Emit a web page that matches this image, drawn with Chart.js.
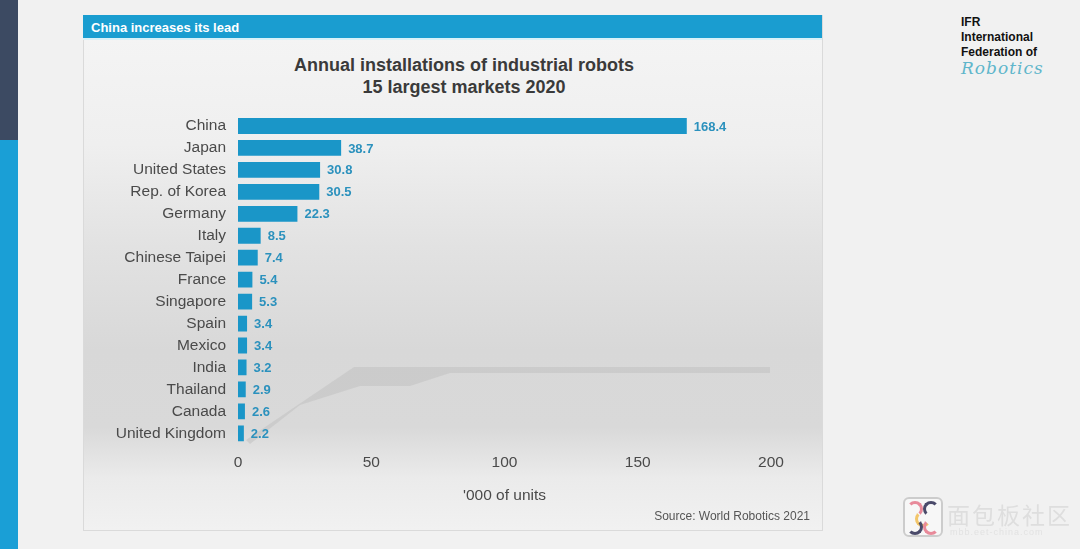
<!DOCTYPE html>
<html>
<head>
<meta charset="utf-8">
<script src="https://cdn.jsdelivr.net/npm/chart.js@4.4.1/dist/chart.umd.min.js"></script>
<style>
  html, body { margin: 0; padding: 0; }
  body { width: 1080px; height: 549px; background: #f1f1f1; position: relative; overflow: hidden;
         font-family: "Liberation Sans", Arial, sans-serif; }
  .strip-top { position: absolute; left: 0; top: 0; width: 18px; height: 140px; background: #3c4a62; }
  .strip-bot { position: absolute; left: 0; top: 140px; width: 18px; height: 409px; background: #1a9fd6; }
  .panel { position: absolute; left: 83px; top: 15px; width: 738px; height: 514px;
           border: 1px solid #dadada;
           background: linear-gradient(to bottom, #f5f5f5 0%, #efefef 25%, #e2e2e2 45%, #d8d8d8 65%, #d9d9d9 80%, #ebebeb 90%, #f1f1f1 100%); }
  .header { position: absolute; left: 83px; top: 15px; width: 739px; height: 25px; background: #1a9dd0;
            border-bottom: 2px solid #d9f1f8; box-sizing: border-box; }
  .header span { position: absolute; left: 8px; top: 5px; color: #fff; font-weight: bold; font-size: 13px; }
  .title { position: absolute; left: 214px; top: 55px; width: 500px; text-align: center;
           font-weight: bold; font-size: 18px; line-height: 21.5px; color: #3a3a3a; }
  .chart-box { position: absolute; left: 83px; top: 40px; width: 739px; height: 490px; }
  .source { position: absolute; right: 270px; top: 509px; font-size: 12px; color: #555; }
  .logo { position: absolute; left: 961px; top: 15px; font-weight: bold; font-size: 12px; line-height: 15px; color: #111; }
  .logo .script { font-family: "DejaVu Serif", serif; font-style: italic; font-weight: normal; font-size: 17px;
                  color: #5fb6cb; letter-spacing: 1px; margin-top: 1px; }
  .wm { position: absolute; left: 903px; top: 497px; width: 36px; height: 36px; border: 2px solid #ccc;
        border-radius: 6px; background: #f7f7f7; overflow: hidden; }
  .wm i { position: absolute; width: 10px; height: 10px; border-radius: 50%; border: 3px solid; border-color: transparent; }
  .wm-text { position: absolute; left: 947px; top: 497px; font-family: "Noto Sans CJK SC", sans-serif;
             font-size: 23px; color: #dedede; letter-spacing: 2px; }
  .wm-sub { position: absolute; left: 950px; top: 527px; font-size: 9px; color: #e2e2e2; letter-spacing: 1px; }
  svg.shadow { position: absolute; left: 0; top: 0; }
</style>
</head>
<body>
<div class="strip-top"></div>
<div class="strip-bot"></div>
<div class="panel"></div>
<svg class="shadow" width="1080" height="549">
  <polygon points="246,440 354,367 770,367 770,373 450,373 410,386 360,386 300,405 250,444" fill="#c4c4c4" opacity="0.65"/>
</svg>
<div class="header"><span>China increases its lead</span></div>
<div class="title">Annual installations of industrial robots<br>15 largest markets 2020</div>
<div class="chart-box"><canvas id="robotChart"></canvas></div>
<div class="source">Source: World Robotics 2021</div>
<div class="logo">IFR<br>International<br>Federation of<div class="script">Robotics</div></div>
<div class="wm">
  <i style="left:2px;top:2px;border-top-color:#e88a9a;border-right-color:#e88a9a"></i>
  <i style="left:18px;top:2px;border-top-color:#4a4a6a;border-left-color:#4a4a6a"></i>
  <i style="left:10px;top:12px;border-bottom-color:#f3c66a;border-left-color:#f3c66a"></i>
  <i style="left:2px;top:20px;border-bottom-color:#4a4a6a;border-right-color:#4a4a6a"></i>
  <i style="left:18px;top:20px;border-bottom-color:#e88a9a;border-left-color:#e88a9a"></i>
</div>
<div class="wm-text">面包板社区</div>
<div class="wm-sub">mbb.eet-china.com</div>

<script>
const countries = ['China', 'Japan', 'United States', 'Rep. of Korea', 'Germany', 'Italy', 'Chinese Taipei',
  'France', 'Singapore', 'Spain', 'Mexico', 'India', 'Thailand', 'Canada', 'United Kingdom'];
const installations = [168.4, 38.7, 30.8, 30.5, 22.3, 8.5, 7.4, 5.4, 5.3, 3.4, 3.4, 3.2, 2.9, 2.6, 2.2];
const xTicks = [0, 50, 100, 150, 200];

const fontFamily = '"Liberation Sans", Arial, sans-serif';

// value labels at the end of each bar
const valueLabels = {
  id: 'valueLabels',
  afterDatasetsDraw(chart) {
    const ctx = chart.ctx;
    const meta = chart.getDatasetMeta(0);
    ctx.save();
    ctx.font = 'bold 13px ' + fontFamily;
    ctx.fillStyle = '#2b91bd';
    ctx.textAlign = 'left';
    ctx.textBaseline = 'middle';
    meta.data.forEach((bar, i) => {
      ctx.fillText(installations[i].toFixed(1), bar.x + 7, bar.y + 1);
    });
    ctx.restore();
  }
};

const ctx = document.getElementById('robotChart').getContext('2d');
new Chart(ctx, {
  type: 'bar',
  data: {
    labels: countries,
    datasets: [{
      data: installations,
      backgroundColor: '#1a96c8',
      borderWidth: 0,
      barPercentage: 0.72,
      categoryPercentage: 1
    }]
  },
  options: {
    indexAxis: 'y',
    responsive: true,
    maintainAspectRatio: false,
    animation: false,
    layout: {
      padding: { left: 0, right: 51, top: 75, bottom: 25 }
    },
    plugins: {
      legend: { display: false },
      tooltip: { enabled: false },
      title: { display: false }
    },
    scales: {
      x: {
        min: 0,
        max: 200,
        grid: { display: false, drawTicks: false },
        border: { display: false },
        afterBuildTicks(scale) {
          scale.ticks = xTicks.map(v => ({ value: v }));
        },
        ticks: {
          color: '#4a4a4a',
          padding: 9,
          font: { family: fontFamily, size: 15.5 }
        },
        title: {
          display: true,
          text: "'000 of units",
          color: '#4a4a4a',
          font: { family: fontFamily, size: 15.5 },
          padding: { top: 5.5, bottom: 0 }
        }
      },
      y: {
        grid: { display: false, drawTicks: false },
        border: { display: false },
        afterFit(scale) { scale.width = 155; },
        ticks: {
          autoSkip: false,
          color: '#4a4a4a',
          padding: 12,
          font: { family: fontFamily, size: 15.5 }
        }
      }
    }
  },
  plugins: [valueLabels]
});
</script>
</body>
</html>
